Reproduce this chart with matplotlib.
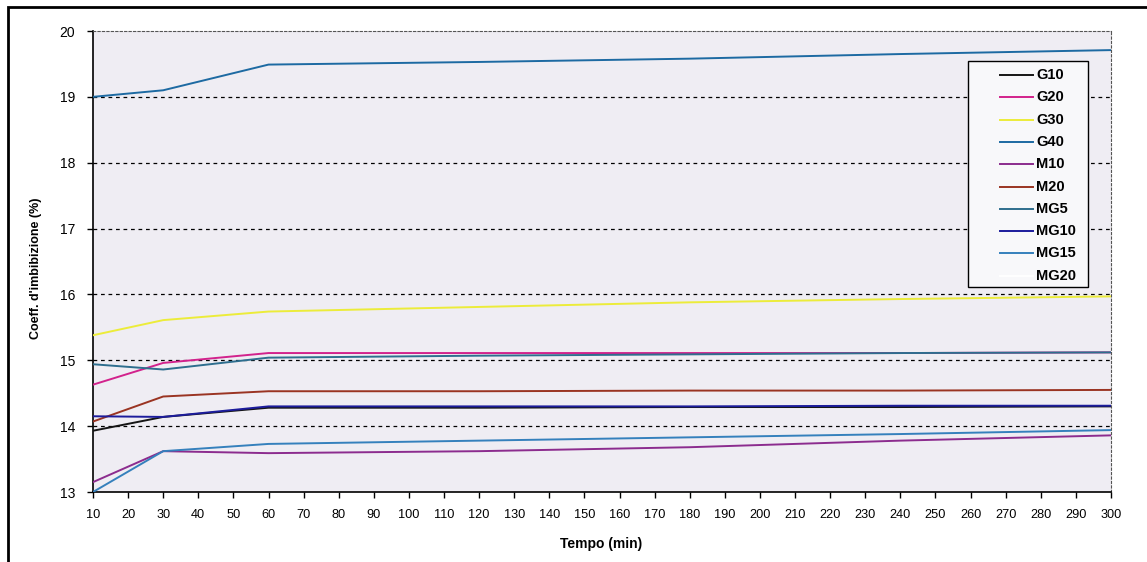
import matplotlib
matplotlib.use("Agg")
import matplotlib.pyplot as plt
from matplotlib.patches import Rectangle
from matplotlib.lines import Line2D

# Imbibition coefficient (%) versus time (min)
tempo = [10, 30, 60, 120, 180, 240, 300]
G10 = [13.93, 14.14, 14.28, 14.28, 14.29, 14.29, 14.30]
G20 = [14.63, 14.96, 15.11, 15.11, 15.11, 15.11, 15.12]
G30 = [15.38, 15.61, 15.74, 15.81, 15.88, 15.93, 15.97]
G40 = [19.00, 19.10, 19.49, 19.53, 19.58, 19.65, 19.71]
M10 = [13.15, 13.62, 13.59, 13.62, 13.68, 13.78, 13.86]
M20 = [14.07, 14.45, 14.53, 14.53, 14.54, 14.54, 14.55]
MG5 = [14.94, 14.86, 15.04, 15.07, 15.09, 15.11, 15.12]
MG10 = [14.15, 14.14, 14.30, 14.30, 14.30, 14.31, 14.31]
MG15 = [13.00, 13.62, 13.73, 13.78, 13.83, 13.88, 13.94]
MG20 = []

serie = ["G10", "G20", "G30", "G40", "M10", "M20", "MG5", "MG10", "MG15", "MG20"]
valori = [G10, G20, G30, G40, M10, M20, MG5, MG10, MG15, MG20]
colori = ["#151515", "#d2228c", "#ecec3a", "#1d6aa2", "#8c2c8e", "#9a3422",
          "#2e6e8e", "#1c1c9c", "#3580bc", "#ffffff"]

x_ticks = list(range(10, 301, 10))
y_ticks = [13, 14, 15, 16, 17, 18, 19, 20]

plt.rcParams["font.family"] = ["Liberation Sans", "DejaVu Sans"]

W, H = 1147, 562
fig = plt.figure(figsize=(W / 100, H / 100), dpi=100)
fig.patch.set_facecolor("white")

def fx(px):
    return px / W

def fy(py):
    return 1 - py / H

# outer frame
fig.patches.append(Rectangle((fx(8), -0.05), 1.2, fy(7) + 0.05,
                             transform=fig.transFigure, fill=False,
                             edgecolor="black", linewidth=2.0))

ax = fig.add_axes([fx(93), fy(492), (1111 - 93) / W, (492 - 31) / H])
ax.set_facecolor("#efedf3")

for nome, yv, c in zip(serie, valori, colori):
    ax.plot(tempo[:len(yv)], yv, color=c, linewidth=1.4, label=nome,
            solid_joinstyle="round", zorder=3)

ax.set_xlim(10, 300)
ax.set_ylim(13, 20)
ax.set_xticks(x_ticks)
ax.set_yticks(y_ticks)
ax.tick_params(axis="both", direction="out", length=4, width=1, colors="black")
ax.tick_params(axis="x", pad=8, labelsize=9.2)
ax.tick_params(axis="y", pad=9, labelsize=10)

for yg in y_ticks[1:-1]:
    ax.axhline(yg, color="black", linewidth=0.9, linestyle=(0, (3, 3)), zorder=1)

for s in ["left", "bottom"]:
    ax.spines[s].set_linewidth(1.2)
    ax.spines[s].set_color("black")
for s in ["top", "right"]:
    ax.spines[s].set_linestyle((0, (2, 2)))
    ax.spines[s].set_linewidth(0.8)
    ax.spines[s].set_color("#555555")

ax.set_xlabel("Tempo (min)", fontsize=10, fontweight="bold")
ax.set_ylabel("Coeff. d'imbibizione (%)", fontsize=9, fontweight="bold")
ax.xaxis.set_label_coords(fx(601), fy(537), transform=fig.transFigure)
ax.yaxis.set_label_coords(fx(42), fy(268), transform=fig.transFigure)

# legend box with one row per series
fig.patches.append(Rectangle((fx(968), fy(287)), (1088 - 968) / W, (287 - 61) / H,
                             transform=fig.transFigure, facecolor="#f8f8fa",
                             edgecolor="black", linewidth=1.0, zorder=5))
row0, dy = 75, 22.3
for i, (nome, c) in enumerate(zip(serie, colori)):
    yy = fy(row0 + i * dy)
    fig.lines.append(Line2D([fx(1000), fx(1033)], [yy, yy], color=c,
                            linewidth=1.4, transform=fig.transFigure, zorder=6))
    fig.text(fx(1036), yy, nome, fontsize=10.5, fontweight="bold",
             va="center", ha="left", zorder=6)

fig.savefig("out.png", dpi=100, facecolor="white")
